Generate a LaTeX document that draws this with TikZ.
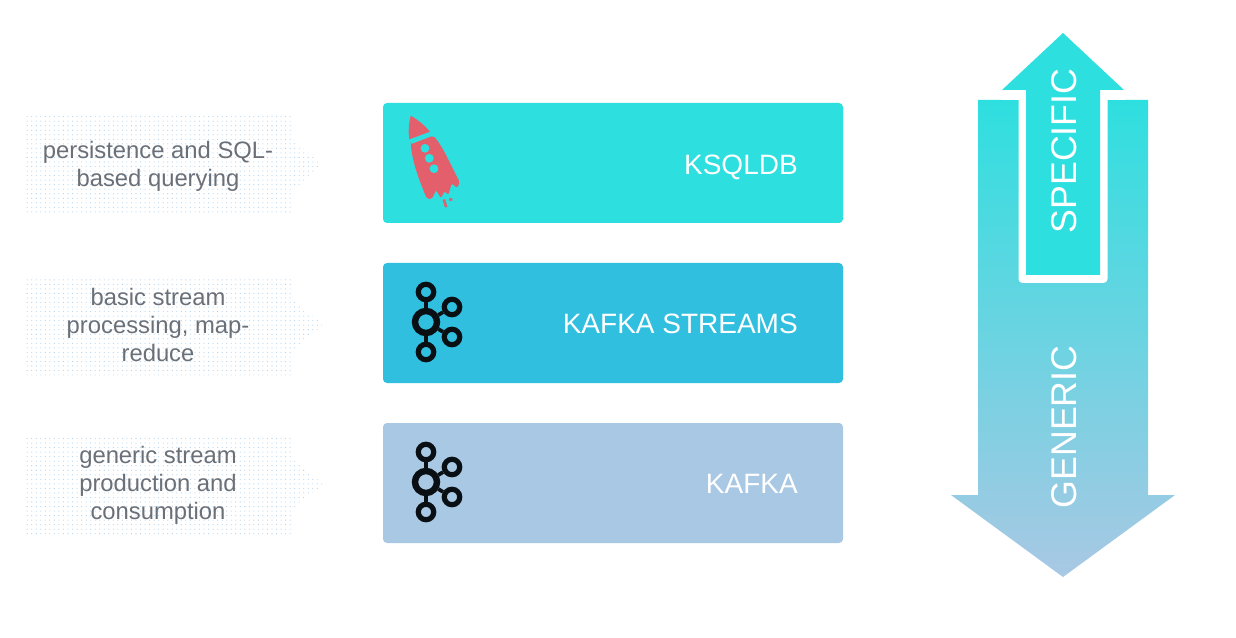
\documentclass[tikz,border=0pt]{standalone}
\usepackage{fontspec}
\setmainfont{Liberation Sans}
\usetikzlibrary{patterns.meta}
\definecolor{ksqlcol}{HTML}{2EDFDF}
\definecolor{streamcol}{HTML}{30BFDF}
\definecolor{kafkacol}{HTML}{A9C8E4}
\definecolor{labelcol}{HTML}{6B7078}
\definecolor{dotcol}{HTML}{A9CDEB}
\definecolor{rocketcol}{HTML}{E45F6C}
\definecolor{logocol}{HTML}{0A0F14}
\tikzset{
    layerbox/.style={draw=none, rounded corners=3pt, minimum width=345pt, minimum height=90pt, inner sep=0pt},
    layertext/.style={text=white, font=\fontsize{21}{25}\selectfont, inner sep=0pt, anchor=base east},
    sidetext/.style={text=labelcol, font=\fontsize{17.85}{21}\selectfont, align=center, inner sep=0pt},
    arrowtext/.style={text=white, font=\fontsize{26.8}{30}\selectfont, rotate=90, inner sep=0pt},
    bigring/.style={circle, draw=logocol, line width=4.8pt, minimum size=16.5pt, inner sep=0pt},
    smallring/.style={circle, draw=logocol, line width=3.9pt, minimum size=11.6pt, inner sep=0pt},
    ringlink/.style={draw=logocol, line width=2.8pt},
    dotpanel/.style={pattern={Dots[distance=3.4pt, radius=0.4pt]}, pattern color=dotcol, draw=none}
}
\begin{document}
\begin{tikzpicture}[x=0.75pt, y=-0.75pt]
    \useasboundingbox (0,0) rectangle (1236,638);
    % pannelli a sinistra
    \fill[white] (0,0) rectangle (1236,638);
    \path[dotpanel] (25,116) -- (293,116) -- (293,140) -- (323,165) -- (293,190) -- (293,215) -- (25,215) -- cycle;
    \path[dotpanel] (25,276) -- (293,276) -- (293,300) -- (323,325) -- (293,350) -- (293,375) -- (25,375) -- cycle;
    \path[dotpanel] (25,435) -- (293,435) -- (293,459) -- (323,484) -- (293,509) -- (293,534) -- (25,534) -- cycle;
    \node[sidetext] (querylabel) at (158,166) {persistence and SQL-\\based querying};
    \node[sidetext] (streamlabel) at (158,325) {basic stream\\processing, map-\\reduce};
    \node[sidetext] (kafkalabel) at (158,485) {generic stream\\production and\\consumption};
    % livelli centrali
    \node[layerbox, fill=ksqlcol] (ksqlbox) at (613,163) {};
    \node[layerbox, fill=streamcol] (streambox) at (613,323) {};
    \node[layerbox, fill=kafkacol] (kafkabox) at (613,483) {};
    \node[layertext] (ksqltext) at (798,175) {KSQLDB};
    \node[layertext] (streamtext) at (798,333) {KAFKA STREAMS};
    \node[layertext] (kafkatext) at (798,493) {KAFKA};
    % razzo
    \fill[rocketcol] (410.7,115.7) .. controls (420,121) and (426,127) .. (430,131.7) -- (409.3,139.3) .. controls (408,131) and (409,122) .. (410.7,115.7) -- cycle;
    \fill[rocketcol, rounded corners=1.5pt] (410.7,144.3) -- (433.3,135.7) .. controls (444,148) and (452,168) .. (459.8,182) -- (457.3,188) -- (451.7,183.3) -- (448.3,195) -- (444.5,191) -- (441,198.3) -- (436,190) -- (432,199) -- (427,199) .. controls (420,182) and (413,165) .. (410.7,144.3) -- cycle;
    \fill[rocketcol] (442.5,200) -- (445,199) -- (447.5,207) -- (445,207.5) -- cycle;
    \fill[rocketcol] (449,198.5) -- (452,198) -- (452.5,200.5) -- (449.5,201) -- cycle;
    \fill[ksqlcol] (425,148.3) circle (3.3pt) (429.3,158.3) circle (3.3pt) (434,168.7) circle (3.3pt);
    % logo kafka
    \foreach \dy/\nm in {0/a,160/b}{
        \node[bigring] (\nm center) at (426,322+\dy) {};
        \node[smallring] (\nm top) at (426,292+\dy) {};
        \node[smallring] (\nm bottom) at (426,352+\dy) {};
        \node[smallring] (\nm upper) at (452,307+\dy) {};
        \node[smallring] (\nm lower) at (452,337+\dy) {};
        \draw[ringlink] (\nm center) -- (\nm top);
        \draw[ringlink] (\nm center) -- (\nm bottom);
        \draw[ringlink] (\nm center) -- (\nm upper);
        \draw[ringlink] (\nm center) -- (\nm lower);
    }
    % frecce a destra
    \shade[top color=ksqlcol, bottom color=kafkacol] (978,100) -- (1148,100) -- (1148,495) -- (1175,495) -- (1063,577) -- (951,495) -- (978,495) -- cycle;
    \fill[white, rounded corners=3pt] (1018.5,95) -- (1107.5,95) -- (1107.5,283) -- (1018.5,283) -- cycle;
    \fill[white] (1001,90) rectangle (1125,100);
    \fill[ksqlcol] (1063,33) -- (1124,90) -- (1100,90) -- (1100,275) -- (1026,275) -- (1026,90) -- (1002,90) -- cycle;
    \node[arrowtext] (specifictext) at (1064,151) {SPECIFIC};
    \node[arrowtext] (generictext) at (1064,427) {GENERIC};
\end{tikzpicture}
\end{document}
